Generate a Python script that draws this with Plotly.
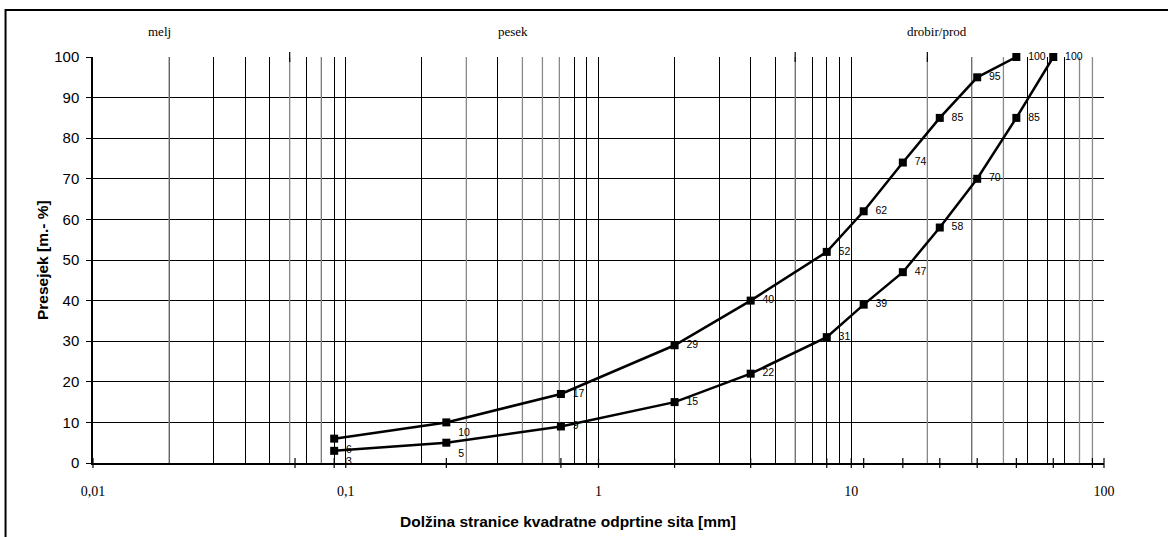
import plotly.graph_objects as go

# ---- data ----
sieve_upper = [0.09, 0.25, 0.71, 2, 4, 8, 11.2, 16, 22.4, 31.5, 45]
pass_upper = [6, 10, 17, 29, 40, 52, 62, 74, 85, 95, 100]
sieve_lower = [0.09, 0.25, 0.71, 2, 4, 8, 11.2, 16, 22.4, 31.5, 45, 63]
pass_lower = [3, 5, 9, 15, 22, 31, 39, 47, 58, 70, 85, 100]
sieve_ticks = [0.01, 0.063, 0.09, 0.1, 0.25, 0.71, 1, 2, 4, 8, 10, 11.2, 16, 22.4, 31.5, 45, 63, 90, 100]
top_ticks = [0.06, 6, 20]
gray_grid = [0.02, 0.06, 0.08, 0.3, 0.5, 0.6, 0.7, 6, 20, 30, 40, 80, 90]
x_tickvals = [0.01, 0.1, 1, 10, 100]
x_ticktext = ["0,01", "0,1", "1", "10", "100"]
y_tickvals = [0, 10, 20, 30, 40, 50, 60, 70, 80, 90, 100]
fractions = ["melj", "pesek", "drobir/prod"]
fraction_pos = [0.066, 0.415, 0.835]

SANS = "Liberation Sans, Arial, sans-serif"
SERIF = "Liberation Serif, Times New Roman, serif"

fig = go.Figure()

# gray gridline overlay
gx, gy = [], []
for v in gray_grid:
    gx += [v, v, None]
    gy += [0, 100, None]
fig.add_trace(go.Scatter(x=gx, y=gy, mode="lines", line=dict(color="#8a8a8a", width=1.3),
                         hoverinfo="skip", showlegend=False))

def positions(n):
    pos = ["middle right"] * n
    pos[0] = "bottom right"
    pos[1] = "bottom right"
    return pos

for xs, ys in [(sieve_upper, pass_upper), (sieve_lower, pass_lower)]:
    fig.add_trace(go.Scatter(
        x=xs, y=ys, mode="lines+markers+text",
        line=dict(color="black", width=2.5),
        marker=dict(symbol="square", size=8, color="black"),
        text=["  " + str(v) for v in ys],
        textposition=positions(len(xs)),
        textfont=dict(family=SANS, size=10.5, color="black"),
        showlegend=False, cliponaxis=False))

# cross tick marks on the x axis
fig.add_trace(go.Scatter(x=sieve_ticks, y=[0] * len(sieve_ticks), mode="markers",
                         marker=dict(symbol="line-ns", size=7, line=dict(color="black", width=1.2)),
                         hoverinfo="skip", showlegend=False, cliponaxis=False))
fig.add_trace(go.Scatter(x=top_ticks, y=[100] * len(top_ticks), mode="markers",
                         marker=dict(symbol="line-ns", size=7, line=dict(color="black", width=1.2)),
                         hoverinfo="skip", showlegend=False, cliponaxis=False))

fig.update_xaxes(type="log", range=[-2, 2],
                 tickvals=x_tickvals, ticktext=x_ticktext,
                 tickfont=dict(family=SERIF, size=14, color="black"),
                 ticks="outside", ticklen=14, tickcolor="rgba(0,0,0,0)",
                 showgrid=True, gridcolor="black", gridwidth=1,
                 minor=dict(dtick="D1", showgrid=True, gridcolor="#000", gridwidth=1, ticks=""),
                 showline=True, linecolor="black", linewidth=1.5,
                 zeroline=False, fixedrange=True)
fig.update_yaxes(range=[0, 100], tickvals=y_tickvals,
                 tickfont=dict(family=SANS, size=15, color="black"),
                 ticks="outside", ticklen=5, tickcolor="black",
                 ticklabelstandoff=4,
                 showgrid=True, gridcolor="black", gridwidth=1,
                 showline=True, linecolor="black", linewidth=1.5,
                 zeroline=False, fixedrange=True)

annotations = []
for name, px in zip(fractions, fraction_pos):
    annotations.append(dict(text=name, x=px, y=1.064, xref="paper", yref="paper",
                            xanchor="center", yanchor="middle",
                            showarrow=False, font=dict(family=SERIF, size=13, color="black")))
annotations.append(dict(text="<b>Dolžina stranice kvadratne odprtine sita [mm]</b>",
                        x=0.47, y=-0.145, xref="paper", yref="paper", showarrow=False,
                        xanchor="center", yanchor="middle",
                        font=dict(family=SANS, size=15.5, color="black")))
annotations.append(dict(text="<b>Presejek [m.- %]</b>", x=-0.0504, y=0.5, xref="paper", yref="paper",
                        xanchor="center", yanchor="middle",
                        showarrow=False, textangle=-90,
                        font=dict(family=SANS, size=15.5, color="black")))

fig.update_layout(
    width=1168, height=537,
    margin=dict(l=93, r=64, t=57, b=74, autoexpand=False),
    paper_bgcolor="white", plot_bgcolor="white",
    annotations=annotations,
    shapes=[dict(type="rect", xref="paper", yref="paper",
                 x0=-0.0865, x1=1.07, y0=-0.2, y1=1.1158,
                 line=dict(color="black", width=2))],
)

fig.write_html("out.html", config={"displayModeBar": False},
               post_script="document.body.style.margin='0';")
